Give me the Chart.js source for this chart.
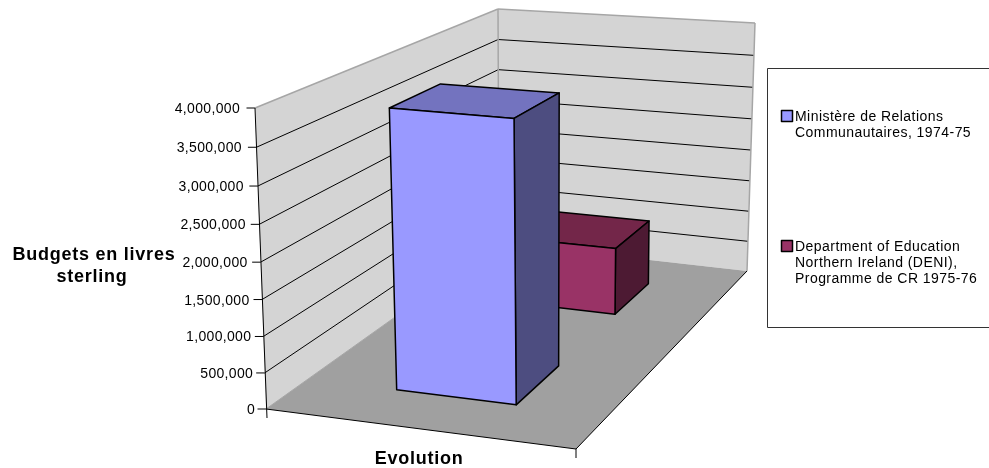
<!DOCTYPE html>
<html>
<head>
<meta charset="utf-8">
<title>Budgets</title>
<script src="https://cdn.jsdelivr.net/npm/chart.js@4/dist/chart.umd.js"></script>
<style>
    html, body { margin: 0; padding: 0; background: #fff; overflow: hidden; }
    canvas { display: block; }
</style>
</head>
<body>
<canvas id="grafico" width="989" height="468"></canvas>
<script>
const categories = ['Evolution'];
const seriesNames = ['Ministère de Relations Communautaires, 1974-75', 'Department of Education Northern Ireland (DENI), Programme de CR 1975-76'];
const ministere = [3850000];
const deni = [1030000];
const tickLabels = ['0', '500,000', '1,000,000', '1,500,000', '2,000,000', '2,500,000', '3,000,000', '3,500,000', '4,000,000'];

// layout of the fake 3D box, in pixels
const box = {
    floor: [[266, 409], [576, 449], [499, 243], [747, 271]],
    roof: [[255, 108], [580, 137], [498, 9], [755, 23]]
};
const colores = [
    { front: '#9999FF', top: '#7373BF', side: '#4D4D80' },
    { front: '#993366', top: '#732649', side: '#4D1A33' }
];
const fuente = 'Arial, "Liberation Sans", sans-serif';
const fugaAltura = 0.05;

// maps the unit square on a quad (u along the front, w towards the back)
function crearPlano(q) {
    const [a, b, c, d] = q;
    const sx = a[0] - b[0] + d[0] - c[0], sy = a[1] - b[1] + d[1] - c[1];
    const x1 = b[0] - d[0], y1 = b[1] - d[1], x2 = c[0] - d[0], y2 = c[1] - d[1];
    const det = x1 * y2 - x2 * y1;
    const p = (sx * y2 - x2 * sy) / det, r = (x1 * sy - sx * y1) / det;
    return (u, w) => {
        const k = 1 + p * u + r * w;
        return [
            (a[0] + u * ((1 + p) * b[0] - a[0]) + w * ((1 + r) * c[0] - a[0])) / k,
            (a[1] + u * ((1 + p) * b[1] - a[1]) + w * ((1 + r) * c[1] - a[1])) / k
        ];
    };
}
const planoSuelo = crearPlano(box.floor);
const planoTecho = crearPlano(box.roof);

function proyectar(u, v, w) {
    const s = planoSuelo(u, w), t = planoTecho(u, w);
    // the top of the wall is a bit closer to the camera
    const h = v / (1 + fugaAltura * (1 - v));
    return [s[0] + (t[0] - s[0]) * h, s[1] + (t[1] - s[1]) * h];
}

function poligono(ctx, puntos, relleno, borde, ancho) {
    ctx.beginPath();
    puntos.forEach((p, i) => i ? ctx.lineTo(p[0], p[1]) : ctx.moveTo(p[0], p[1]));
    ctx.closePath();
    if (relleno) { ctx.fillStyle = relleno; ctx.fill(); }
    if (borde) { ctx.strokeStyle = borde; ctx.lineWidth = ancho; ctx.lineJoin = 'round'; ctx.stroke(); }
}

function linea(ctx, a, b, color, ancho) {
    ctx.beginPath();
    ctx.moveTo(a[0], a[1]);
    ctx.lineTo(b[0], b[1]);
    ctx.strokeStyle = color;
    ctx.lineWidth = ancho;
    ctx.stroke();
}

function texto(ctx, str, x, y, font, align, espacio) {
    ctx.font = font;
    ctx.textAlign = align;
    ctx.textBaseline = 'alphabetic';
    ctx.letterSpacing = espacio + 'px';
    ctx.fillStyle = '#000';
    ctx.fillText(str, x, y);
    ctx.letterSpacing = '0px';
}

function dibujarCaja(chart) {
    const ctx = chart.ctx, escala = chart.scales.y;
    const area = chart.chartArea;
    poligono(ctx, [proyectar(0, 0, 0), proyectar(0, 1, 0), proyectar(0, 1, 1), proyectar(0, 0, 1)], '#D4D4D4');
    poligono(ctx, [proyectar(0, 0, 1), proyectar(0, 1, 1), proyectar(1, 1, 1), proyectar(1, 0, 1)], '#D4D4D4');
    poligono(ctx, [proyectar(0, 0, 0), proyectar(1, 0, 0), proyectar(1, 0, 1), proyectar(0, 0, 1)], '#A0A0A0');

    // gridlines and tick labels come from the value scale
    escala.ticks.forEach(t => {
        const v = (area.bottom - escala.getPixelForValue(t.value)) / area.height;
        const p0 = proyectar(0, v, 0), p1 = proyectar(0, v, 1), p2 = proyectar(1, v, 1);
        if (v > 0 && v < 1) {
            linea(ctx, p0, p1, '#000', 1);
            linea(ctx, p1, p2, '#000', 1);
        }
        linea(ctx, [p0[0] - 8.5, p0[1]], p0, '#000', 1);
        texto(ctx, t.label, p0[0] - 11 - 4 * v, p0[1] + 5, '14px ' + fuente, 'right', 0.33);
    });

    linea(ctx, proyectar(0, 1, 0), proyectar(0, 1, 1), '#A6A6A6', 1.5);
    linea(ctx, proyectar(0, 1, 1), proyectar(1, 1, 1), '#A6A6A6', 1.5);
    linea(ctx, proyectar(0, 1, 1), proyectar(0, 0, 1), '#A6A6A6', 1.5);
    linea(ctx, proyectar(1, 1, 1), proyectar(1, 0, 1), '#A6A6A6', 1.5);
    linea(ctx, proyectar(0, 0, 0), proyectar(0, 0, 1), '#A6A6A6', 1);
    linea(ctx, proyectar(0, 1, 0), [proyectar(0, 0, 0)[0] + 1, proyectar(0, 0, 0)[1] + 9], '#000', 1);
    linea(ctx, proyectar(0, 0, 0), proyectar(1, 0, 0), '#000', 1);
    const fr = proyectar(1, 0, 0);
    linea(ctx, fr, proyectar(1, 0, 1), '#000', 1);
    linea(ctx, fr, [fr[0], fr[1] + 9], '#000', 1);
}

function dibujarBarra(chart, el, indice) {
    const ctx = chart.ctx, area = chart.chartArea, n = chart.data.datasets.length;
    const c = colores[indice];
    const u0 = (el.x - el.width / 2 - area.left) / area.width;
    const u1 = (el.x + el.width / 2 - area.left) / area.width;
    const v0 = (area.bottom - el.base) / area.height;
    const v1 = (area.bottom - el.y) / area.height;
    const w0 = (indice + 0.5) / n - 0.1, w1 = (indice + 0.5) / n + 0.1;
    poligono(ctx, [proyectar(u0, v1, w0), proyectar(u1, v1, w0), proyectar(u1, v1, w1), proyectar(u0, v1, w1)], c.top, '#000', 1.5);
    poligono(ctx, [proyectar(u1, v0, w0), proyectar(u1, v1, w0), proyectar(u1, v1, w1), proyectar(u1, v0, w1)], c.side, '#000', 1.5);
    poligono(ctx, [proyectar(u0, v0, w0), proyectar(u1, v0, w0), proyectar(u1, v1, w0), proyectar(u0, v1, w0)], c.front, '#000', 1.5);
}

function dibujarLeyenda(chart) {
    const ctx = chart.ctx;
    ctx.fillStyle = '#fff';
    ctx.fillRect(767.5, 68.5, 230, 259);
    ctx.strokeStyle = '#333';
    ctx.lineWidth = 1;
    ctx.strokeRect(767.5, 68.5, 230, 259);
    const filas = [
        { y: 110.5, lineas: ['Ministère de Relations', 'Communautaires, 1974-75'], base: 121 },
        { y: 240.5, lineas: ['Department of Education', 'Northern Ireland (DENI),', 'Programme de CR 1975-76'], base: 251 }
    ];
    filas.forEach((f, i) => {
        ctx.fillStyle = colores[i].front;
        ctx.strokeStyle = '#000';
        ctx.lineWidth = 1.5;
        ctx.fillRect(781.5, f.y, 11, 11);
        ctx.strokeRect(781.5, f.y, 11, 11);
        f.lineas.forEach((l, j) => texto(ctx, l, 795, f.base + j * 16, '14px ' + fuente, 'left', 0.45));
    });
}

const pluginCaja = {
    id: 'caja3d',
    beforeDatasetsDraw(chart) {
        dibujarCaja(chart);
        // back series first so the front bar covers it
        for (let i = chart.data.datasets.length - 1; i >= 0; i--) {
            chart.getDatasetMeta(i).data.forEach(el => dibujarBarra(chart, el, i));
        }
        return false;
    },
    afterDraw(chart) {
        const ctx = chart.ctx;
        dibujarLeyenda(chart);
        const negrita = 'bold 18px ' + fuente;
        texto(ctx, 'Budgets en livres', 94, 260, negrita, 'center', 0.75);
        texto(ctx, 'sterling', 92, 282, negrita, 'center', 0.75);
        texto(ctx, categories[0], 419, 464, negrita, 'center', 0.75);
    }
};

new Chart(document.getElementById('grafico'), {
    type: 'bar',
    data: {
        labels: categories,
        datasets: [
            { label: seriesNames[0], data: ministere, backgroundColor: colores[0].front },
            { label: seriesNames[1], data: deni, backgroundColor: colores[1].front }
        ]
    },
    options: {
        responsive: false,
        animation: false,
        layout: { padding: { left: 266, right: 413, top: 108, bottom: 59 } },
        datasets: { bar: { grouped: false, categoryPercentage: 0.4, barPercentage: 1 } },
        plugins: { legend: { display: false }, tooltip: { enabled: false } },
        scales: {
            x: { display: false },
            y: {
                display: false,
                min: 0,
                max: 4000000,
                ticks: { stepSize: 500000, callback: (valor, i) => tickLabels[i] }
            }
        }
    },
    plugins: [pluginCaja]
});
</script>
</body>
</html>
